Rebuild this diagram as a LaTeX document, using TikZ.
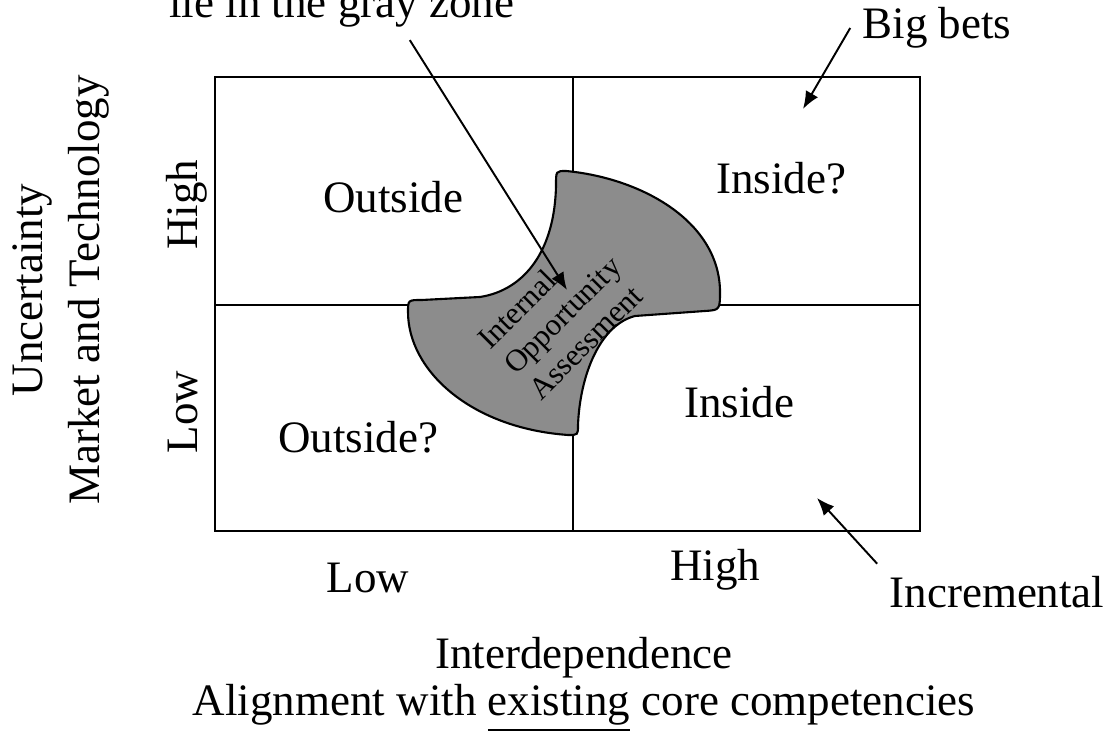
\documentclass[tikz,border=0pt]{standalone}
\usepackage{fontspec}
\setmainfont{Liberation Serif}
\usetikzlibrary{arrows.meta}

\begin{document}
\begin{tikzpicture}[
  >={Latex[length=5pt,width=4pt]},
  every node/.style={font=\fontsize{12.8}{15}\selectfont},
  grid/.style={draw, line width=0.6pt},
  sidelabel/.style={rotate=90, anchor=base},
  pointer/.style={->, line width=0.55pt},
  zone/.style={draw, line width=0.6pt, fill=black!45},
  zonetext/.style={rotate=45, align=left, font=\fontsize{8.8}{10.2}\selectfont},
]
\useasboundingbox (0,0) rectangle (11.12,7.31);
\clip (0,0) rectangle (11.12,7.31);

% ========= Matrix frame =========
\draw[grid] (2.15,2.00) rectangle (9.20,6.54);
\draw[grid] (5.73,2.00) -- (5.73,6.54);
\draw[grid] (2.15,4.26) -- (9.20,4.26);

% ========= Gray zone =========
\path[zone] (5.66,5.60)
  .. controls (6.40,5.53) and (7.18,5.11) .. (7.20,4.41)
  .. controls (7.20,4.21) .. (7.05,4.20)
  -- (6.35,4.15)
  .. controls (6.00,4.06) and (5.80,3.56) .. (5.78,3.06)
  .. controls (5.78,2.96) .. (5.68,2.96)
  .. controls (4.70,3.03) and (4.08,3.61) .. (4.08,4.19)
  .. controls (4.08,4.31) .. (4.22,4.31)
  -- (4.80,4.34)
  .. controls (5.25,4.41) and (5.55,4.81) .. (5.56,5.46)
  .. controls (5.56,5.60) .. cycle;
\node[zonetext] (ioa) at (5.62,4.16) {Internal\\Opportunity\\Assessment};

% ========= Quadrant labels =========
\node (tl) at (3.93,5.34) {Outside};
\node (tr) at (7.81,5.53) {Inside?};
\node (bl) at (3.58,2.94) {Outside?};
\node (br) at (7.39,3.29) {Inside};

% ========= Axis labels =========
\node[sidelabel] (unc) at (0.43,4.41) {Uncertainty};
\node[sidelabel] (mkt) at (1.00,4.41) {Market and Technology};
\node[sidelabel] (yhigh) at (1.97,5.26) {High};
\node[sidelabel] (ylow) at (1.97,3.19) {Low};

\node (xlow) at (3.68,1.53) {Low};
\node (xhigh) at (7.15,1.61) {High};
\node (interdep) at (5.84,0.73) {Interdependence};
\node (align) at (5.84,0.23) {Alignment with \underline{existing} core competencies};

% ========= Callouts =========
\node[anchor=base west] (grayzone) at (1.57,7.13) {lie in the gray zone};
\node (bigbets) at (9.37,7.03) {Big bets};
\node (incr) at (9.97,1.39) {Incremental};

\coordinate (gz-tip) at (5.67,4.41);
\coordinate (bb-tip) at (8.03,6.22);
\coordinate (inc-tip) at (8.17,2.33);

\draw[pointer] ([xshift=0.68cm]grayzone.south) -- (gz-tip);
\draw[pointer] (bigbets.west) -- (bb-tip);
\draw[pointer] (incr.north west) -- (inc-tip);

\end{tikzpicture}
\end{document}
